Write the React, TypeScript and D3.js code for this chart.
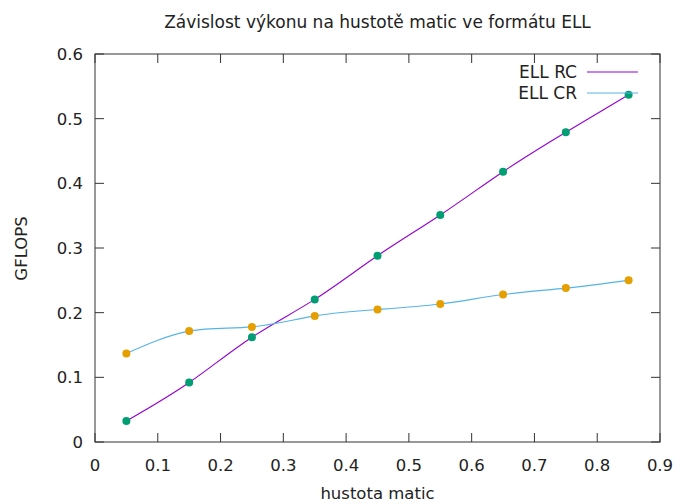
import React from "react";
import * as d3 from "d3";

const density = [0.05, 0.15, 0.25, 0.35, 0.45, 0.55, 0.65, 0.75, 0.85];
const ellRC = [0.0325, 0.092, 0.162, 0.2205, 0.288, 0.351, 0.418, 0.479, 0.537];
const ellCR = [0.137, 0.1715, 0.178, 0.195, 0.205, 0.2133, 0.228, 0.238, 0.25];
const xTicks = [0, 0.1, 0.2, 0.3, 0.4, 0.5, 0.6, 0.7, 0.8, 0.9];
const yTicks = [0, 0.1, 0.2, 0.3, 0.4, 0.5, 0.6];
const seriesNames = ["ELL RC", "ELL CR"];

const W = 679, H = 504;
const L = 95, R = 660, T = 54, B = 442;
const FONT = "'DejaVu Sans', sans-serif";

export default function App() {
  const x = d3.scaleLinear().domain([0, 0.9]).range([L, R]);
  const y = d3.scaleLinear().domain([0, 0.6]).range([B, T]);
  const line = d3
    .line<number>()
    .x((_, i) => x(density[i]))
    .y((d) => y(d))
    .curve(d3.curveNatural);
  const series = [
    { name: seriesNames[0], vals: ellRC, line: "#9400d3", pt: "#009e73" },
    { name: seriesNames[1], vals: ellCR, line: "#56b4e9", pt: "#e69f00" },
  ];
  const tickLen = 9;
  const fs = 16.5;
  return (
    <svg width={W} height={H} style={{ position: "absolute", left: 0, top: 0, background: "#fff" }} fontFamily={FONT}>
      <rect x={0} y={0} width={W} height={H} fill="#fff" />
      <text x={(L + R) / 2} y={28} textAnchor="middle" fontSize={17} fill="#222">
        Závislost výkonu na hustotě matic ve formátu ELL
      </text>
      {xTicks.map((t) => (
        <g key={"x" + t}>
          <line x1={x(t)} x2={x(t)} y1={B} y2={B - tickLen} stroke="#333" />
          <line x1={x(t)} x2={x(t)} y1={T} y2={T + tickLen} stroke="#333" />
          <text x={x(t)} y={471} textAnchor="middle" fontSize={fs} fill="#222">
            {t === 0 ? "0" : d3.format(".1f")(t)}
          </text>
        </g>
      ))}
      {yTicks.map((t) => (
        <g key={"y" + t}>
          <line x1={L} x2={L + tickLen} y1={y(t)} y2={y(t)} stroke="#333" />
          <line x1={R} x2={R - tickLen} y1={y(t)} y2={y(t)} stroke="#333" />
          <text x={83} y={y(t) + 6} textAnchor="end" fontSize={fs} fill="#222">
            {t === 0 ? "0" : d3.format(".1f")(t)}
          </text>
        </g>
      ))}
      <rect x={L} y={T} width={R - L} height={B - T} fill="none" stroke="#333" />
      <text x={(L + R) / 2} y={499} textAnchor="middle" fontSize={fs} fill="#222">
        hustota matic
      </text>
      <text transform={`translate(27,${248.5}) rotate(-90)`} textAnchor="middle" fontSize={fs} fill="#222">
        GFLOPS
      </text>
      {series.map((s) => (
        <path key={s.name + "l"} d={line(s.vals) || ""} fill="none" stroke={s.line} strokeWidth={1.1} />
      ))}
      {series.map((s) =>
        s.vals.map((v, i) => (
          <circle key={s.name + i} cx={x(density[i])} cy={y(v)} r={4} fill={s.pt} />
        ))
      )}
      {series.map((s, i) => (
        <g key={s.name + "lg"}>
          <text x={577} y={72 + i * 21 + 6} textAnchor="end" fontSize={17} fill="#222">
            {s.name}
          </text>
          <line x1={587} x2={638} y1={72 + i * 21} y2={72 + i * 21} stroke={s.line} strokeWidth={1.1} />
        </g>
      ))}
    </svg>
  );
}
